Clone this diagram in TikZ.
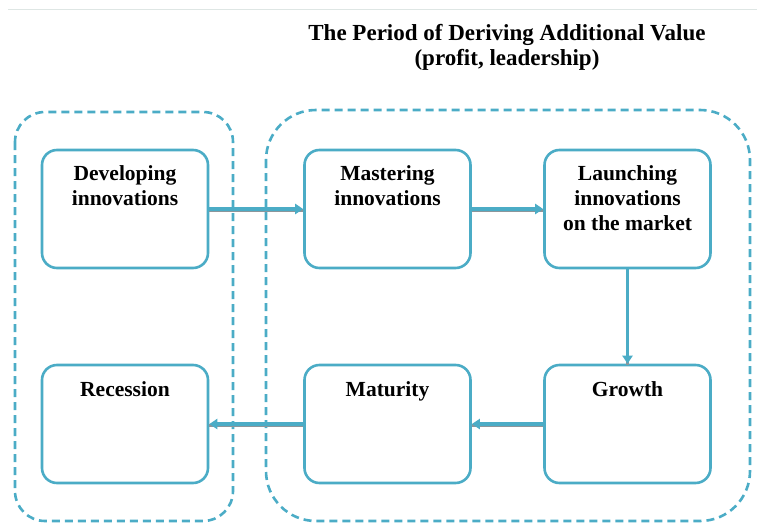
\documentclass[tikz,border=0pt]{standalone}
\usepackage{fontspec}
\setmainfont{Liberation Serif}
\usetikzlibrary{positioning,arrows.meta}
\definecolor{aqua}{RGB}{75,172,198}
\definecolor{shade}{RGB}{140,150,155}
\definecolor{pageedge}{RGB}{222,230,228}

\begin{document}
\begin{tikzpicture}[x=1pt,y=-1pt,
    stage/.style={draw=aqua,line width=2.6pt,rounded corners=15pt,
      minimum width=166pt,minimum height=118pt,fill=white},
    stagetext/.style={font=\fontsize{21.5}{25}\selectfont\bfseries,
      align=center,inner sep=0pt},
    group/.style={draw=aqua,line width=2.6pt,dash pattern=on 8pt off 5pt},
    flow/.style={draw=aqua,line width=3.5pt,-{Triangle[length=8pt,width=10pt]},
      preaction={draw=shade,line width=3pt,-,transform canvas={yshift=-1.5pt}}}]
  \useasboundingbox (0,0) rectangle (757,532);
  % edge of the page
  \draw[pageedge,line width=1pt] (8,10) -- (757,10);
  % title
  \node[stagetext,font=\fontsize{23}{25.5}\selectfont\bfseries,anchor=north]
    (heading) at (507,24) {The Period of Deriving Additional Value\\(profit, leadership)};
  % dashed groups
  \draw[group,rounded corners=30pt] (15,112) rectangle (233,521);
  \draw[group,rounded corners=50pt] (266,110) rectangle (750,521);
  % stages
  \node[stage] (dev)    at (125,209)   {};
  \node[stage] (mast)   at (387.5,209) {};
  \node[stage] (launch) at (627.5,209) {};
  \node[stage] (rec)    at (125,424)   {};
  \node[stage] (mat)    at (387.5,424) {};
  \node[stage] (grow)   at (627.5,424) {};
  \node[stagetext,below=17pt of dev.north]    (devtext)    {Developing\\innovations};
  \node[stagetext,below=17pt of mast.north]   (masttext)   {Mastering\\innovations};
  \node[stagetext,below=17pt of launch.north] (launchtext) {Launching\\innovations\\on the market};
  \node[stagetext,below=18pt of rec.north]    (rectext)    {Recession};
  \node[stagetext,below=18pt of mat.north]    (mattext)    {Maturity};
  \node[stagetext,below=18pt of grow.north]   (growtext)   {Growth};
  % arrows
  \draw[flow] (dev) -- (mast);
  \draw[flow] (mast) -- (launch);
  \draw[flow] (launch) -- (grow);
  \draw[flow] (grow) -- (mat);
  \draw[flow] (mat) -- (rec);
\end{tikzpicture}
\end{document}
